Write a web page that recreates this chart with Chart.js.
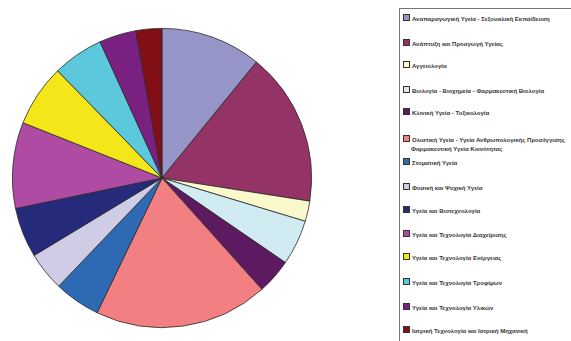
<!DOCTYPE html>
<html>
<head>
	<meta http-equiv="Content-Type" content="text/html; charset=utf-8"/>
	<title>Πίτα</title>
	<script src="https://cdn.jsdelivr.net/npm/chart.js"></script>
	<style type="text/css">
		html,body{margin:0;padding:0;background:#fff;overflow:hidden;width:571px;height:341px;}
		#pieBox{position:absolute;left:0;top:0;width:324px;height:341px;}
		#legend{position:absolute;left:399px;top:8px;width:200px;height:400px;border:1.5px solid #777;box-sizing:border-box;}
		.item{position:absolute;left:3px;font:bold 6px "Liberation Sans",Arial,sans-serif;color:#333;line-height:9px;white-space:nowrap;}
		.sw{display:inline-block;width:5px;height:5px;border:0.5px solid #333;margin-right:2px;vertical-align:-0.5px;}
	</style>
	<script>
	// κατηγορίες (υπόμνημα)
	let Labels=[
		"Αναπαραγωγική Υγεία - Σεξουαλική Εκπαίδευση",
		"Ανάπτυξη και Προαγωγή Υγείας",
		"Αγγειολογία",
		"Βιολογία - Βιοχημεία - Φαρμακευτική Βιολογία",
		"Κλινική Υγεία - Τοξικολογία",
		["Ολιστική Υγεία - Υγεία Ανθρωπολογικής Προσέγγισης","Φαρμακευτική Υγεία Κοινότητας"],
		"Στοματική Υγεία",
		"Φυσική και Ψυχική Υγεία",
		"Υγεία και Βιοτεχνολογία",
		"Υγεία και Τεχνολογία Διαχείρισης",
		"Υγεία και Τεχνολογία Ενέργειας",
		"Υγεία και Τεχνολογία Τροφίμων",
		"Υγεία και Τεχνολογία Υλικών",
		"Ιατρική Τεχνολογία και Ιατρική Μηχανική"
	];
	// τιμές (%) εκτιμημένες από την εικόνα
	let Values=[10.9,16.6,2.2,4.9,3.8,18.8,5.0,4.2,5.4,9.3,6.7,5.5,4.0,2.8];
	let Colors=["#9595c8","#943366","#fbf8cc","#d0ecf2","#5e1a60","#f27f82","#2e6ab4",
		"#cfcce6","#252a7a","#b04ba4","#f5e61a","#5cc8dc","#7a2080","#820f16"];
	let LegendTop=[13,38,60,85,107,134,157,182,205,229,252,277,302,325];

	window.onload=function(){
		new Chart(document.getElementById('myChart.Pie'),{
			type:'pie',
			data:{
				labels:Labels,
				datasets:[{data:Values,backgroundColor:Colors,borderColor:'#2a2a2a',borderWidth:0.8}]
			},
			options:{
				responsive:true,
				maintainAspectRatio:false,
				animation:false,
				layout:{padding:{top:28,bottom:13,left:12,right:12}},
				plugins:{legend:{display:false},tooltip:{enabled:false}}
			}
		});
		let lg=document.getElementById('legend');
		Labels.forEach(function(t,i){
			let d=document.createElement('div');
			d.className='item';
			d.style.top=(LegendTop[i]-8)+'px';
			let sw='<span class="sw" style="background:'+Colors[i]+'"></span>';
			if(Array.isArray(t)){
				d.innerHTML=sw+t[0]+'<br><span style="margin-left:8px">'+t[1]+'</span>';
			}else{
				d.innerHTML=sw+t;
			}
			lg.appendChild(d);
		});
	};
	</script>
</head>
<body>
	<div id="pieBox"><canvas id="myChart.Pie"></canvas></div>
	<div id="legend"></div>
</body>
</html>
